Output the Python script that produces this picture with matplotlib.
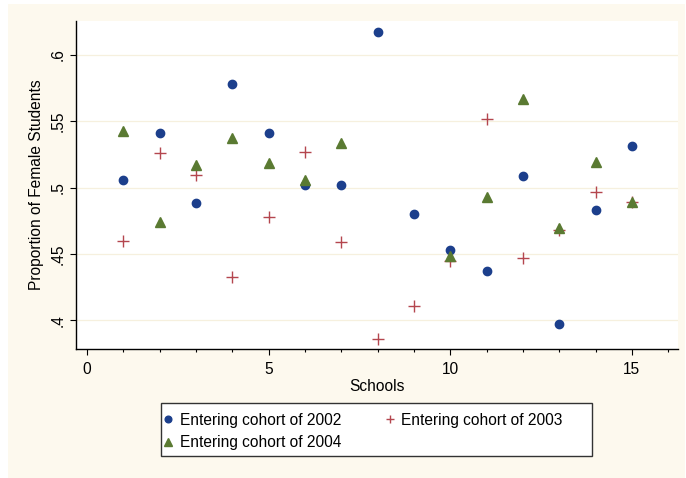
import numpy as np
import matplotlib
matplotlib.use("Agg")
import matplotlib.pyplot as plt
from matplotlib.patches import Rectangle
from matplotlib.ticker import MultipleLocator

plt.rcParams['font.family'] = ['Liberation Sans', 'DejaVu Sans']

schools = np.arange(1, 16)
cohort_2002 = [0.5055, 0.541, 0.4885, 0.578, 0.541, 0.502, 0.502, 0.617,
               0.4805, 0.4534, 0.437, 0.5088, 0.3972, 0.4835, 0.531]
cohort_2003 = [0.4602, 0.526, 0.5098, 0.4326, 0.478, 0.5268, 0.4594, 0.3857,
               0.4107, 0.4446, 0.552, 0.4474, 0.468, 0.4968, 0.489]
cohort_2004 = [0.5429, 0.4742, 0.5168, 0.5373, 0.5186, 0.5058, 0.5336, np.nan,
               np.nan, 0.4484, 0.493, 0.567, 0.4697, 0.5193, 0.4895]
labels = ["Entering cohort of 2002", "Entering cohort of 2003", "Entering cohort of 2004"]
yticks = [0.4, 0.45, 0.5, 0.55, 0.6]
yticklabels = [".4", ".45", ".5", ".55", ".6"]
xticks = [0, 5, 10, 15]

FS = 11.2
W, H = 686, 478
fig = plt.figure(figsize=(W / 100, H / 100), dpi=100)
fig.patch.set_facecolor('white')
cream = '#FDF9EE'
fig.add_artist(Rectangle((8 / W, 0), (685 - 8) / W, 1 - 4 / H, transform=fig.transFigure,
                         facecolor=cream, edgecolor='none', zorder=-10))

ax = fig.add_axes([76 / W, 1 - 349 / H, (678 - 76) / W, (349 - 21) / H])
ax.set_facecolor('white')

blue = '#1C3F8C'
red = '#B4464E'
green = '#5A7A32'

ax.plot(schools, cohort_2002, linestyle='none', marker='o', ms=6, color=blue,
        label=labels[0], zorder=3)
ax.plot(schools, cohort_2003, linestyle='none', marker='+', ms=8, mew=1.0, color=red,
        label=labels[1], zorder=3)
ax.plot(schools, cohort_2004, linestyle='none', marker='^', ms=6.5, color=green,
        label=labels[2], zorder=3)

ax.set_xlim(-0.30, 16.27)
ax.set_ylim(0.3785, 0.6255)

ax.set_yticks(yticks)
ax.set_yticklabels(yticklabels, rotation=90, va='center', fontsize=FS)
ax.set_xticks(xticks)
ax.set_xticklabels([str(t) for t in xticks], fontsize=FS)
ax.xaxis.set_minor_locator(MultipleLocator(1))
ax.tick_params(axis='x', which='major', length=4.5, width=0.8, pad=5)
ax.tick_params(axis='x', which='minor', length=2.5, width=0.8)
ax.tick_params(axis='y', which='major', length=4.5, width=0.8, pad=3)

for y in yticks:
    ax.axhline(y, color='#F6F0DE', lw=0.9, zorder=1)

for s in ['top', 'right']:
    ax.spines[s].set_visible(False)
for s in ['left', 'bottom']:
    ax.spines[s].set_linewidth(1.0)
    ax.spines[s].set_color('black')

ax.set_xlabel("Schools", fontsize=FS, labelpad=1)
ax.set_ylabel("Proportion of Female Students", fontsize=FS, labelpad=5)

# legend box
fig.add_artist(Rectangle((161 / W, 1 - 456 / H), (592 - 161) / W, (456 - 403) / H,
                         transform=fig.transFigure, facecolor='white',
                         edgecolor='#333333', lw=1.0, zorder=5))
h, l = ax.get_legend_handles_labels()
order = [0, 2, 1]
leg = fig.legend([h[i] for i in order], [l[i] for i in order], ncol=2,
                 loc='center left', bbox_to_anchor=(162 / W, 1 - 431.5 / H),
                 fontsize=FS, frameon=False,
                 handlelength=0.8, handletextpad=0.36, columnspacing=2.7,
                 labelspacing=0.48, borderpad=0.0, borderaxespad=0.0, markerscale=0.8)
leg.set_zorder(6)

fig.savefig("out.png", dpi=100, facecolor=fig.get_facecolor())
